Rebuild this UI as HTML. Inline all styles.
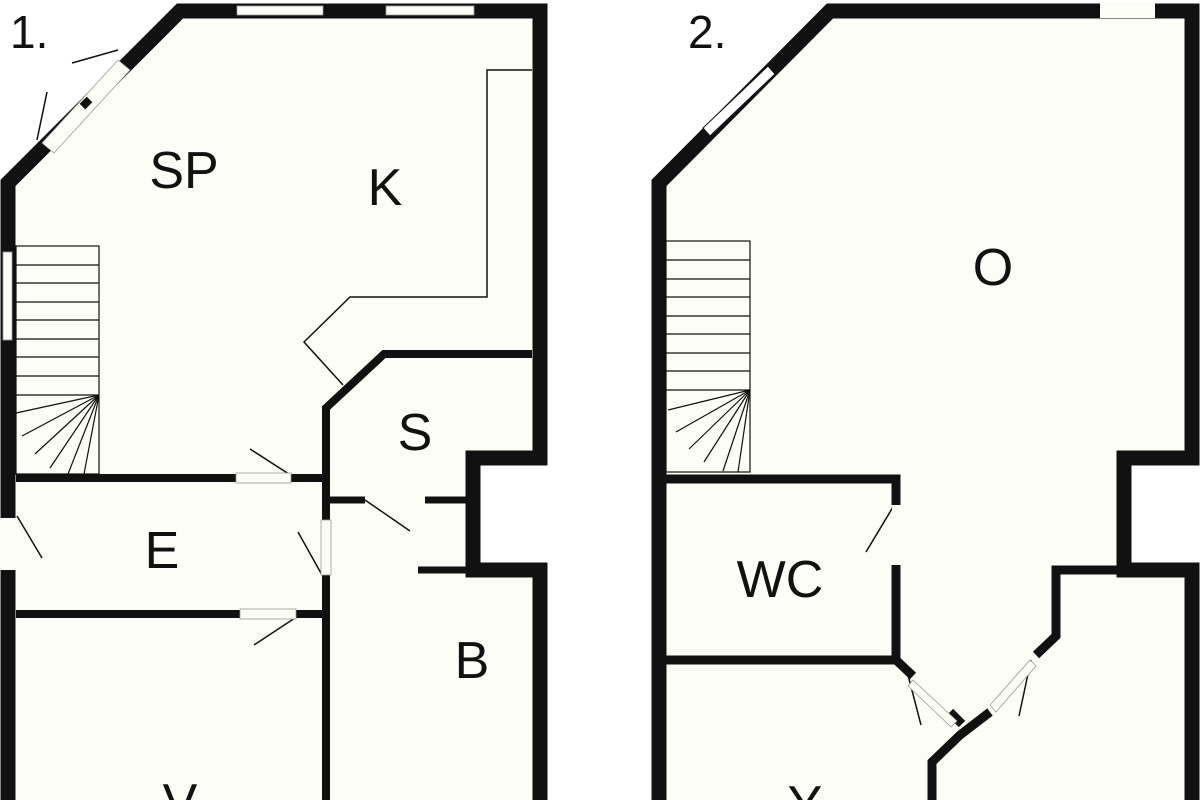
<!DOCTYPE html>
<html><head><style>html,body{margin:0;padding:0;background:#fff}svg{display:block}text{font-family:"Liberation Sans",sans-serif;fill:#111}</style></head>
<body>
<svg width="1200" height="800" viewBox="0 0 1200 800" xmlns="http://www.w3.org/2000/svg">
<polygon points="8,180 180,10 540,10 540,458 472,458 472,570 540,570 540,800 8,800" fill="#fdfdf7"/>
<polygon points="659,182 830,10 1192,10 1192,458 1124,458 1124,570 1192,570 1192,800 659,800" fill="#fdfdf7"/>
<g fill="none" stroke="#111" stroke-linejoin="miter">
<polyline points="8,800 8,183 180,11 540,11 540,458 473,458 473,570 540,570 540,800" stroke-width="15"/>
<polyline points="326,800 326,408 384,354 532,354" stroke-width="8"/>
<line x1="16" y1="478" x2="322" y2="478" stroke-width="8"/>
<line x1="16" y1="614" x2="322" y2="614" stroke-width="8"/>
<line x1="330" y1="500" x2="365" y2="500" stroke-width="7"/>
<line x1="425" y1="500" x2="466" y2="500" stroke-width="7"/>
<line x1="418" y1="570" x2="466" y2="570" stroke-width="7"/>
<polyline points="532,70 487,70 487,297 350,297 304,342 343,385" stroke-width="1.5"/>
<rect x="16" y="246" width="83" height="228" stroke-width="1.2"/>
<g stroke-width="1.2">
<line x1="16" y1="265" x2="99" y2="265"/><line x1="16" y1="283" x2="99" y2="283"/><line x1="16" y1="302" x2="99" y2="302"/><line x1="16" y1="320" x2="99" y2="320"/><line x1="16" y1="339" x2="99" y2="339"/><line x1="16" y1="357" x2="99" y2="357"/><line x1="16" y1="376" x2="99" y2="376"/><line x1="16" y1="395" x2="99" y2="395"/>
<line x1="99" y1="395" x2="16" y2="413"/><line x1="99" y1="395" x2="22" y2="436"/><line x1="99" y1="395" x2="35" y2="454"/><line x1="99" y1="395" x2="50" y2="468"/><line x1="99" y1="395" x2="68" y2="474"/><line x1="99" y1="395" x2="84" y2="474"/>
</g>
<g stroke-width="1.5">
<line x1="118" y1="50" x2="72" y2="63"/><line x1="47" y1="92" x2="37" y2="140"/>
<line x1="250" y1="449" x2="292" y2="476"/><line x1="17" y1="516" x2="42" y2="558"/>
<line x1="298" y1="532" x2="322" y2="575"/><line x1="365" y1="500" x2="410" y2="531"/>
<line x1="298" y1="616" x2="254" y2="645"/>
</g>
<polyline points="659,800 659,183 830,11 1192,11 1192,458 1124,458 1124,570 1192,570 1192,800" stroke-width="15"/>
<polyline points="666,479 896,479 896,505" stroke-width="9"/>
<polyline points="896,565 896,660 666,660" stroke-width="9"/>
<polyline points="896,660 913,676" stroke-width="9"/>
<polyline points="932,800 932,762 960,735 990,712" stroke-width="9"/>
<line x1="950" y1="712" x2="962" y2="724" stroke-width="9"/>
<polyline points="1118,570 1056,570 1056,636 1036,655" stroke-width="9"/>
<g stroke-width="1.5">
<line x1="893" y1="507" x2="866" y2="552"/>
<line x1="908" y1="675" x2="921" y2="725"/>
<line x1="1031" y1="660" x2="1019" y2="716"/>
</g>
<rect x="666" y="241" width="84" height="231" stroke-width="1.2"/>
<g stroke-width="1.2">
<line x1="666" y1="260" x2="750" y2="260"/><line x1="666" y1="279" x2="750" y2="279"/><line x1="666" y1="297" x2="750" y2="297"/><line x1="666" y1="316" x2="750" y2="316"/><line x1="666" y1="334" x2="750" y2="334"/><line x1="666" y1="353" x2="750" y2="353"/><line x1="666" y1="371" x2="750" y2="371"/><line x1="666" y1="390" x2="750" y2="390"/>
<line x1="750" y1="390" x2="668" y2="410"/><line x1="750" y1="390" x2="676" y2="432"/><line x1="750" y1="390" x2="689" y2="449"/><line x1="750" y1="390" x2="704" y2="462"/><line x1="750" y1="390" x2="723" y2="471"/><line x1="750" y1="390" x2="738" y2="472"/>
</g>
</g>
<g fill="#fdfdf7" stroke="#999" stroke-width="0.8">
<rect x="237" y="6" width="86" height="9"/>
<rect x="386" y="6" width="88" height="9"/>
<rect x="3" y="252" width="9" height="88"/>
<rect x="0" y="518" width="17" height="52" stroke="none"/>
<rect x="236" y="473" width="55" height="10"/>
<rect x="240" y="609" width="56" height="10"/>
<rect x="321" y="520" width="10" height="55"/>
<rect x="1100" y="2" width="55" height="16" stroke="none" fill="#fdfdf7"/>
<rect x="892" y="507" width="9" height="58" stroke="none"/>
<polygon points="42,143 118,60 130,70 54,153"/>
<polygon points="703,128 768,66 775,74 710,136" fill="#fff" stroke="#111" stroke-width="1"/>
<polygon points="913,680 957,721 951,727 908,686"/>
<polygon points="990,705 1030,660 1036,666 996,712"/>
</g>
<rect x="82" y="98" width="8" height="10" transform="rotate(45 86 103)" fill="#111"/>
<text x="10" y="48" font-size="46">1.</text>
<text x="184" y="188" font-size="52" text-anchor="middle">SP</text>
<text x="385" y="205" font-size="52" text-anchor="middle">K</text>
<text x="415" y="450" font-size="52" text-anchor="middle">S</text>
<text x="162" y="568" font-size="52" text-anchor="middle">E</text>
<text x="472" y="678" font-size="52" text-anchor="middle">B</text>
<text x="180" y="820" font-size="52" text-anchor="middle">V</text>
<text x="688" y="48" font-size="46">2.</text>
<text x="993" y="285" font-size="52" text-anchor="middle">O</text>
<text x="780" y="597" font-size="52" text-anchor="middle">WC</text>
<text x="805" y="822" font-size="52" text-anchor="middle">Y</text>
</svg>
</body></html>
